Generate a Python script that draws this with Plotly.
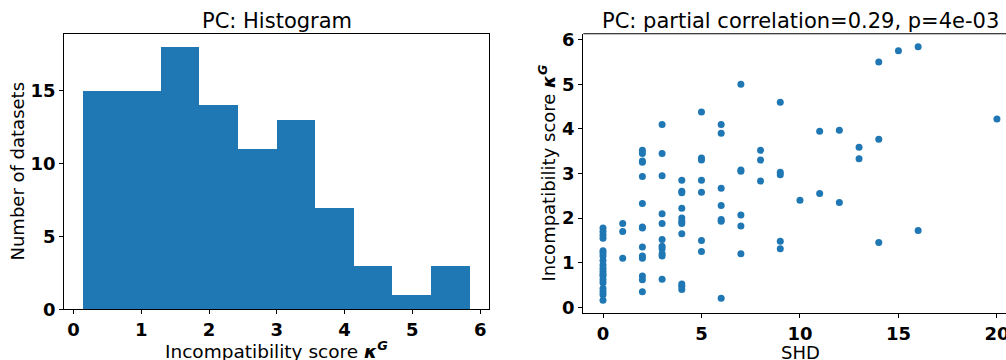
import plotly.graph_objects as go

# ---- data ----
shd = ([0] * 19 + [1] * 3 + [2] * 14 + [3] * 11 + [4] * 11 + [5] * 7 + [6] * 7 + [7] * 6
       + [8] * 3 + [9] * 5 + [10] + [11] * 2 + [12] * 2 + [13] * 2 + [14] * 3 + [15] + [16] * 2 + [20])
kappa = (
    # SHD 0
    [1.78, 1.70, 1.62, 1.55, 1.27, 1.22, 1.15, 1.05, 0.95, 0.87, 0.80, 0.74,
     0.70, 0.62, 0.55, 0.42, 0.35, 0.28, 0.16]
    # SHD 1
    + [1.88, 1.70, 1.10]
    # SHD 2
    + [3.52, 3.45, 3.28, 3.25, 2.93, 2.33, 1.80, 1.78, 1.35, 1.15, 1.10, 0.70, 0.62, 0.35]
    # SHD 3
    + [4.10, 3.45, 2.95, 2.10, 1.88, 1.52, 1.37, 1.31, 1.20, 1.15, 0.63]
    # SHD 4
    + [2.85, 2.60, 2.57, 2.22, 2.00, 1.93, 1.88, 1.65, 0.52, 0.47, 0.40]
    # SHD 5
    + [4.38, 3.35, 3.30, 2.85, 2.58, 1.50, 1.25]
    # SHD 6
    + [4.10, 3.90, 2.67, 2.28, 1.97, 1.93, 0.20]
    # SHD 7
    + [5.00, 3.08, 3.05, 2.07, 1.82, 1.20]
    # SHD 8
    + [3.52, 3.30, 2.83]
    # SHD 9
    + [4.60, 3.03, 2.97, 1.48, 1.31]
    # SHD 10
    + [2.40]
    # SHD 11
    + [3.95, 2.55]
    # SHD 12
    + [3.97, 2.35]
    # SHD 13
    + [3.59, 3.33]
    # SHD 14
    + [5.50, 3.77, 1.45]
    # SHD 15
    + [5.75]
    # SHD 16
    + [5.84, 1.72]
    # SHD 20
    + [4.22]
)

hist_title = "PC: Histogram"
scatter_title = "PC: partial correlation=0.29, p=4e-03"
kappa_label = "Incompatibility score <b><i>κ</i><sup><i>G</i></sup></b>"
count_label = "Number of datasets"
shd_label = "SHD"

W, H = 1006, 360
BLUE = "#1f77b4"
FONT = "DejaVu Sans"


def px(x):
    return x / W


def py(y):
    return (H - y) / H


fig = go.Figure()
fig.add_trace(go.Histogram(
    x=kappa, xbins=dict(start=0.15, end=5.85, size=0.57),
    marker=dict(color=BLUE, line=dict(width=0)),
    xaxis="x", yaxis="y", showlegend=False,
))
fig.add_trace(go.Scatter(
    x=shd, y=kappa, mode="markers",
    marker=dict(color=BLUE, size=7, line=dict(width=0)),
    xaxis="x2", yaxis="y2", showlegend=False, cliponaxis=False,
))

tickfont = dict(family=FONT, size=18, color="black", weight="bold")
axis_common = dict(
    showgrid=False, zeroline=False, showline=True, linecolor="black", linewidth=1.1,
    ticks="outside", ticklen=4, tickwidth=1.1, tickcolor="black", tickfont=tickfont,
    automargin=False, ticklabeloverflow="allow",
)

fig.update_layout(
    template="none",
    width=W, height=H,
    margin=dict(l=0, r=0, t=0, b=0, pad=0),
    paper_bgcolor="white", plot_bgcolor="white",
    bargap=0,
    font=dict(family=FONT, color="black"),
    xaxis=dict(domain=[px(64.3), px(489.3)], range=[-0.135, 6.135],
               tickvals=[0, 1, 2, 3, 4, 5, 6], mirror=True, anchor="y", **axis_common),
    yaxis=dict(domain=[py(309.3), py(33.7)], range=[0, 18.9],
               tickvals=[0, 5, 10, 15], mirror=True, anchor="x", **axis_common),
    xaxis2=dict(domain=[px(583.3), 1.0], range=[-1.0, 20.46],
                tickvals=[0, 5, 10, 15, 20], anchor="y2", **axis_common),
    yaxis2=dict(domain=[py(313.3), py(33.7)], range=[-0.135, 6.135],
                tickvals=[0, 1, 2, 3, 4, 5, 6], anchor="x2", **axis_common),
)

# top spine of the right axes (right spine falls outside the picture)
fig.add_shape(type="line", xref="x2 domain", yref="y2 domain", x0=0, x1=1, y0=1, y1=1,
              line=dict(color="black", width=1.1))

ann = []
ann.append(dict(text=hist_title, x=px(276.8), y=py(21), xanchor="center", yanchor="middle",
                font=dict(family=FONT, size=21)))
ann.append(dict(text=scatter_title, x=px(800), y=py(21), xanchor="center", yanchor="middle",
                font=dict(family=FONT, size=21)))
ann.append(dict(text=kappa_label, x=px(276.8), y=py(350), xanchor="center", yanchor="middle",
                font=dict(family=FONT, size=18.5)))
ann.append(dict(text=shd_label, x=px(800), y=py(352), xanchor="center", yanchor="middle",
                font=dict(family=FONT, size=18)))
ann.append(dict(text=count_label, x=px(17), y=py(171.5), xanchor="center", yanchor="middle",
                textangle=-90, font=dict(family=FONT, size=18)))
ann.append(dict(text=kappa_label, x=px(548), y=py(173.5), xanchor="center", yanchor="middle",
                textangle=-90, font=dict(family=FONT, size=18)))
for a in ann:
    a.update(xref="paper", yref="paper", showarrow=False)
fig.update_layout(annotations=ann)

fig.write_html("out.html", config={"displayModeBar": False},
               post_script="document.body.style.margin='0';document.body.style.overflow='hidden';")
